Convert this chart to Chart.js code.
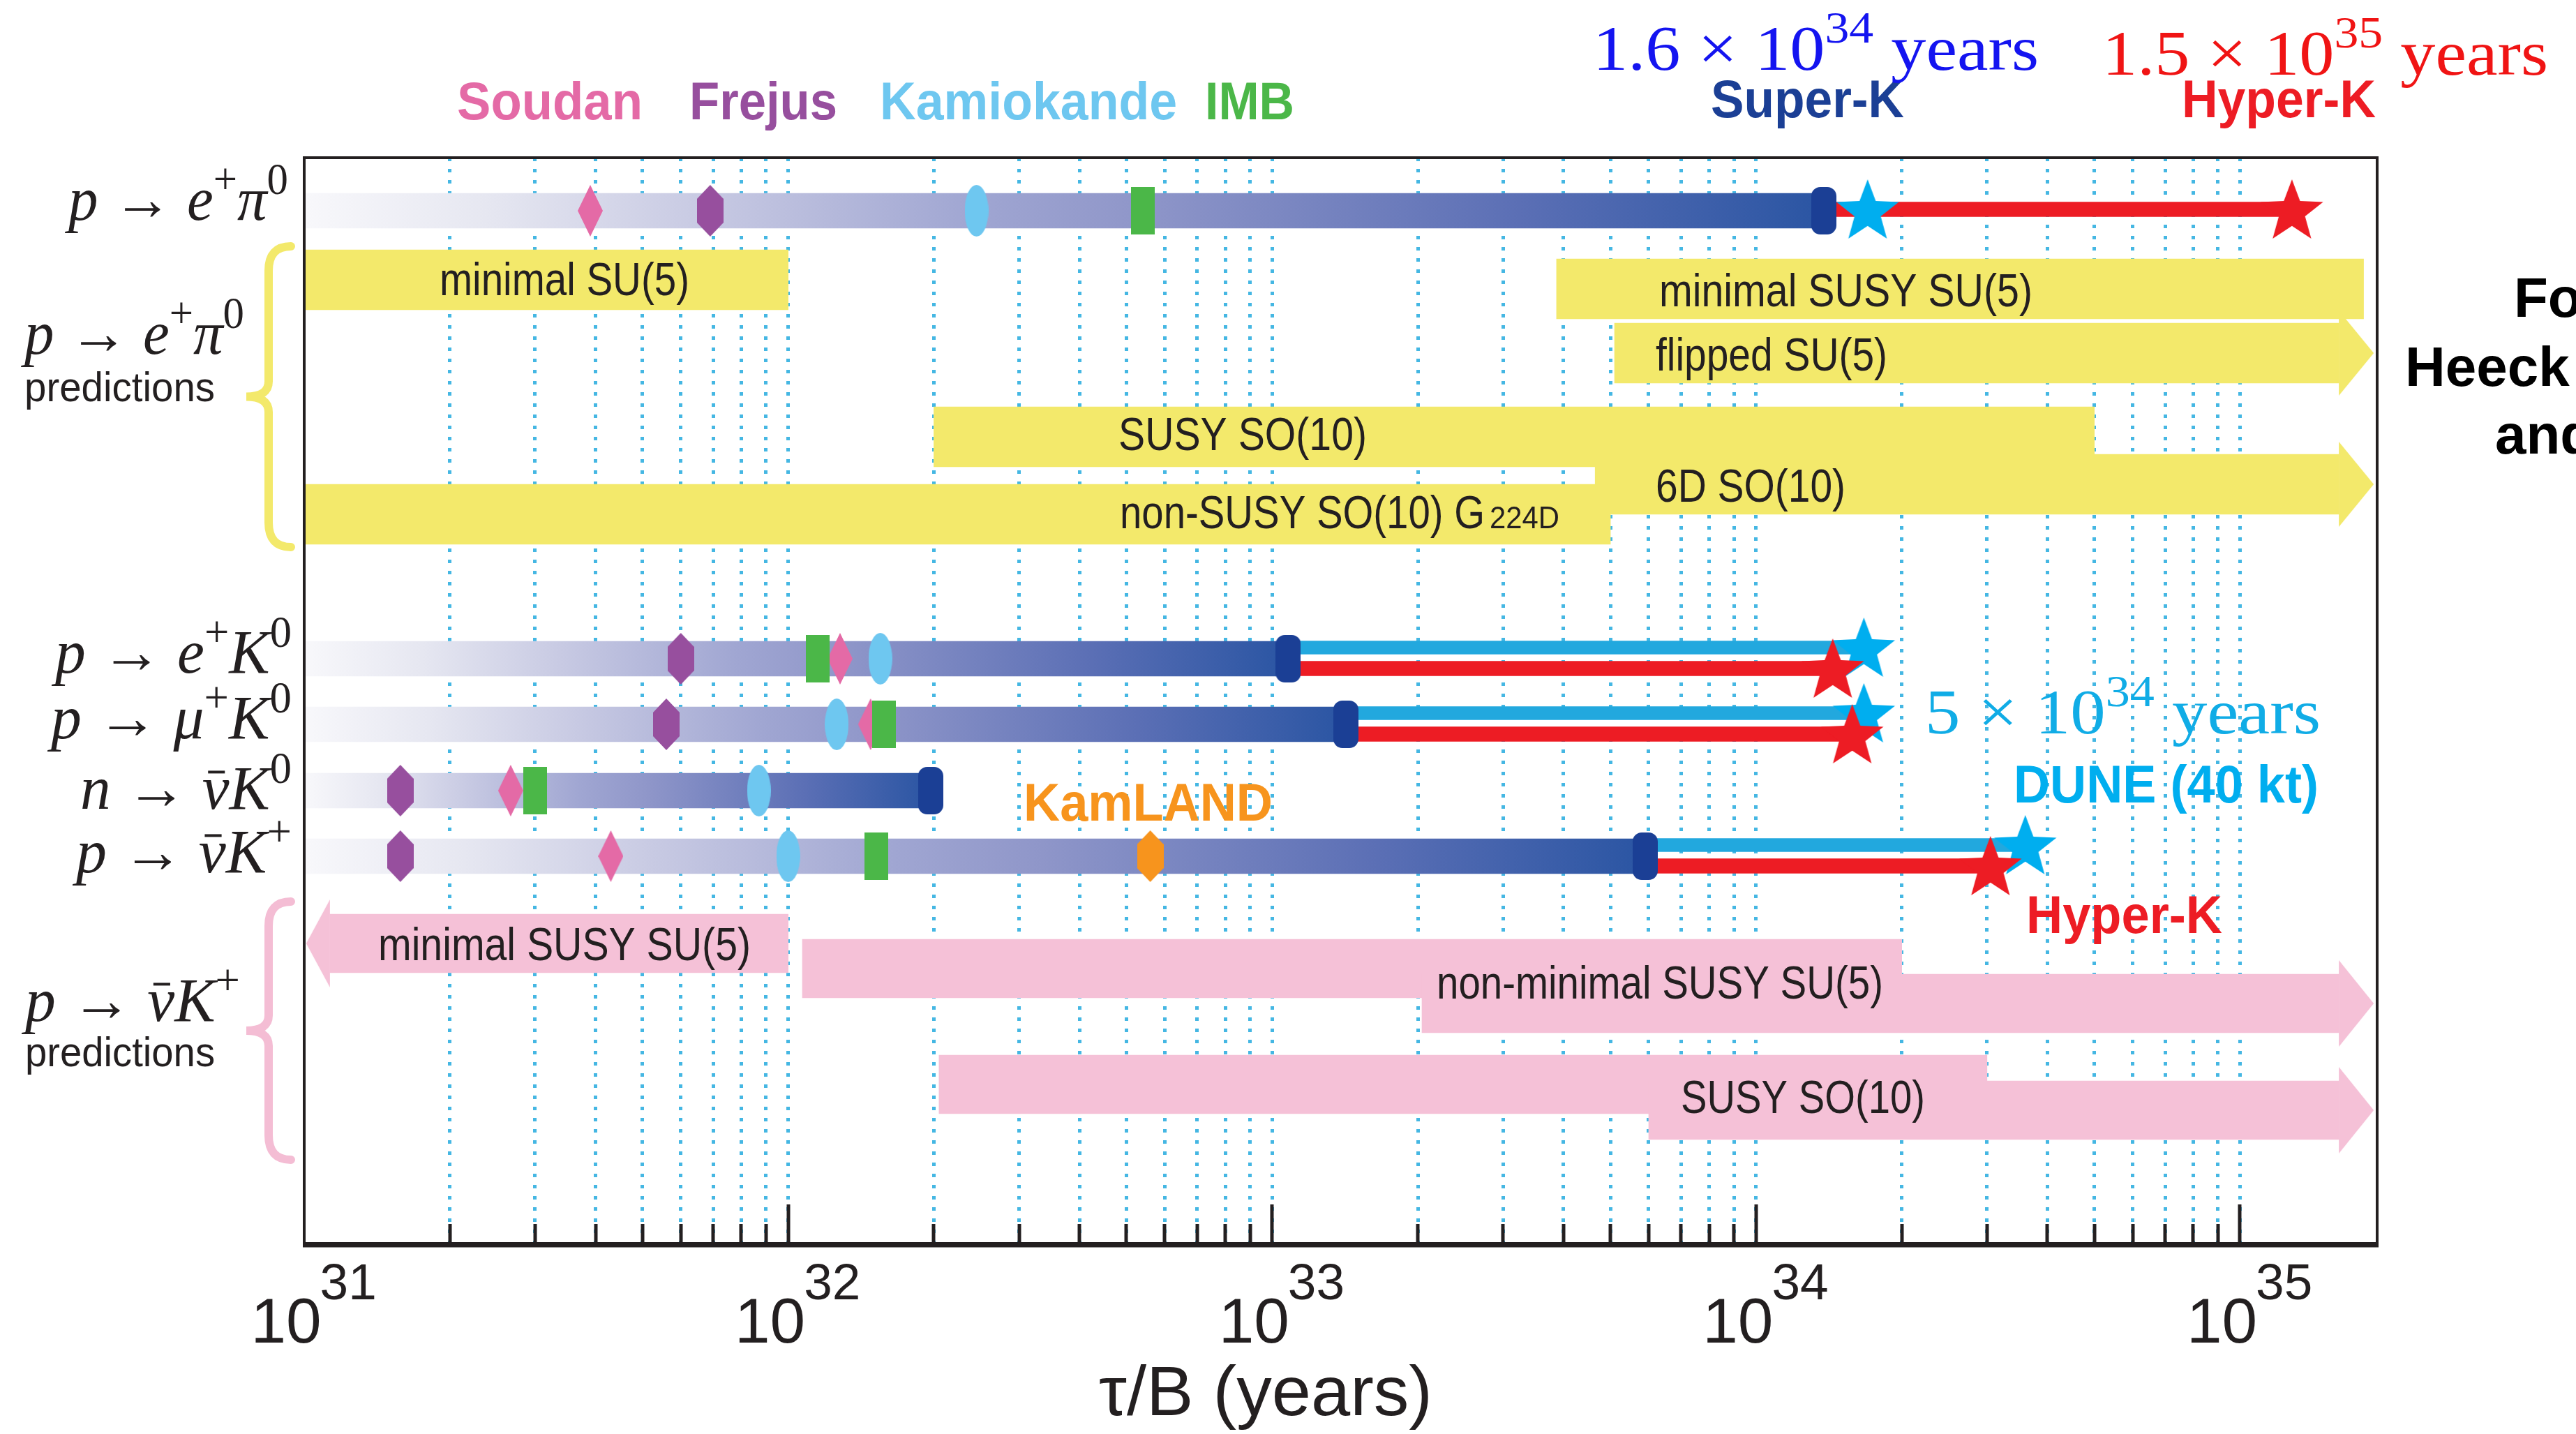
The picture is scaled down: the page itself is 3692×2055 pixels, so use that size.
<!DOCTYPE html>
<html>
<head>
<meta charset="utf-8">
<title>Nucleon decay: limits, reach and predictions</title>
<script src="https://cdn.jsdelivr.net/npm/chart.js@4.4.1/dist/chart.umd.min.js"></script>
<style>
  html, body { margin: 0; padding: 0; background: #fff; }
  #wrap { width: 3692px; height: 2055px; }
</style>
</head>
<body>
<div id="wrap"><canvas id="lifetimeChart" width="3692" height="2055"></canvas></div>
<script>
// ---- data: partial lifetime tau/B in years ----
const decadeExponents = [31, 32, 33, 34, 35];
const gridMantissas = [2, 3, 4, 5, 6, 7, 8, 9, 10];

// observed decay modes, top to bottom ('b' = barred italic)
const modeTokens = [
    [['i', 'p'], ['r', ' → '], ['i', 'e'], ['s', '+'], ['i', 'π'], ['s', '0']],
    [['i', 'p'], ['r', ' → '], ['i', 'e'], ['s', '+'], ['i', 'K'], ['s', '0']],
    [['i', 'p'], ['r', ' → '], ['i', 'μ'], ['s', '+'], ['i', 'K'], ['s', '0']],
    [['i', 'n'], ['r', ' → '], ['b', 'ν'], ['i', 'K'], ['s', '0']],
    [['i', 'p'], ['r', ' → '], ['b', 'ν'], ['i', 'K'], ['s', '+']]
];
const soudanLimit     = [3.9e31, 1.28e32, 1.48e32, 2.67e31, 4.3e31];
const frejusLimit     = [6.9e31, 6.0e31, 5.6e31, 1.58e31, 1.58e31];
const kamiokandeLimit = [2.45e32, 1.55e32, 1.26e32, 8.7e31, 1.0e32];
const imbLimit        = [5.4e32, 1.15e32, 1.58e32, 3.0e31, 1.52e32];
const kamlandLimit    = [null, null, null, null, 5.6e32];
const superKLimit     = [1.38e34, 1.08e33, 1.42e33, 1.97e32, 5.9e33];
const superKReach     = [1.7e34, null, null, null, null];
const duneReach       = [null, 1.67e34, 1.67e34, null, 3.6e34];
const hyperKReach     = [1.28e35, 1.44e34, 1.58e34, null, 3.05e34];

// model predictions (null = open ended, drawn with an arrow)
const epiModels   = ['minimal SU(5)', 'minimal SUSY SU(5)', 'flipped SU(5)', 'SUSY SO(10)', '6D SO(10)', 'non-SUSY SO(10) G'];
const epiPredLow  = [1e31, 3.87e33, 5.1e33, 2.0e32, 4.65e33, 1e31];
const epiPredHigh = [1e32, 1.8e35, null, 5e34, null, 5e33];

const nuKModels   = ['minimal SUSY SU(5)', 'non-minimal SUSY SU(5)', '', 'SUSY SO(10)', ''];
const nuKPredLow  = [null, 1.07e32, 2.04e33, 2.05e32, 6e33];
const nuKPredHigh = [1e32, 2e34, null, 3e34, null];

// ---- layout ----
const X_MIN = 1e31, X_MAX = 1.92e35;
const OPEN_LOW = 1.13e31, OPEN_HIGH = 1.6e35;   // where open ranges hand over to the arrow heads
const PLOT_LANES = 1556;                        // y runs in lane units from the top of the plot
const obsLane = [76, 718, 812, 907, 1001];
const hyperShift = [-2, 14, 14, 14, 14];
const duneShift = -16;
const epiLane = [175, 188, 280, 400, 468, 511];
const nuKLane = [1126, 1162, 1212, 1328, 1365];

const INK = '#231f20';
const YELLOW = '#f3e96b';
const PINK = '#f5c1d7';
const COLORS = {
    soudan: '#e46aa6', frejus: '#974f9e', kamiokande: '#6ec7f0', imb: '#4bb748',
    kamland: '#f7941d', superK: '#1b3f95', hyperK: '#ed1c24', dune: '#00aeef'
};
const limitStops = [[0, '#f8f8fb'], [0.12, '#e6e7f1'], [0.26, '#c8cae3'], [0.44, '#a0a6d2'],
                    [0.55, '#8f96c9'], [0.8, '#5b6fb5'], [1, '#2a55a3']];
const SANS = '"Liberation Sans", Arial, sans-serif';
const SERIF = '"Liberation Serif", "Times New Roman", serif';

function makeMarker(w, h, color, shape) {
    const c = document.createElement('canvas');
    c.width = w; c.height = h;
    const g = c.getContext('2d');
    g.fillStyle = color;
    g.beginPath();
    if (shape === 'diamond') {
        g.moveTo(w / 2, 0); g.lineTo(w, h / 2); g.lineTo(w / 2, h); g.lineTo(0, h / 2);
    } else if (shape === 'hexagon') {
        g.moveTo(w / 2, 0); g.lineTo(w, h * 0.27); g.lineTo(w, h * 0.73);
        g.lineTo(w / 2, h); g.lineTo(0, h * 0.73); g.lineTo(0, h * 0.27);
    } else if (shape === 'ellipse') {
        g.ellipse(w / 2, h / 2, w / 2, h / 2, 0, 0, Math.PI * 2);
    } else if (shape === 'rect') {
        g.rect(0, 0, w, h);
    } else if (shape === 'cap') {
        g.roundRect(0, 0, w, h, 13);
    } else if (shape === 'star') {
        const R = w / 2, r = R * 0.42;
        for (let k = 0; k < 10; k++) {
            const a = -Math.PI / 2 + k * Math.PI / 5;
            const rr = k % 2 ? r : R;
            g.lineTo(w / 2 + rr * Math.cos(a), h / 2 + rr * Math.sin(a) + 4);
        }
    } else if (shape === 'arrowRight') {
        g.moveTo(w / 2, 0); g.lineTo(w, h / 2); g.lineTo(w / 2, h);
    } else if (shape === 'arrowLeft') {
        g.moveTo(w / 2, 0); g.lineTo(0, h / 2); g.lineTo(w / 2, h);
    }
    g.closePath();
    g.fill();
    return c;
}

function pts(values, lanes, shift) {
    const out = [];
    values.forEach((v, i) => {
        if (v !== null) out.push({ x: v, y: lanes[i] + (Array.isArray(shift) ? shift[i] : (shift || 0)) });
    });
    return out;
}

function limitGradient(c) {
    const chart = c.chart;
    if (!chart.chartArea || !c.raw) return '#8f96c9';
    const xs = chart.scales.x;
    const x0 = xs.getPixelForValue(c.raw.x[0]);
    const x1 = xs.getPixelForValue(c.raw.x[1]);
    const g = chart.ctx.createLinearGradient(x0, 0, x1, 0);
    limitStops.forEach(([p, col]) => g.addColorStop(p, col));
    return g;
}

function markerSet(values, marker, order) {
    return { type: 'scatter', order: order, data: pts(values, obsLane), pointStyle: marker, pointRadius: 2 };
}

const datasets = [
    // e+ pi0 predictions
    { type: 'bar', indexAxis: 'y', grouped: false, order: 100, barThickness: 86, backgroundColor: YELLOW,
      data: epiPredLow.map((lo, i) => ({ x: [lo, epiPredHigh[i] === null ? OPEN_HIGH : epiPredHigh[i]], y: epiLane[i] })) },
    { type: 'scatter', order: 99, pointRadius: 2, pointStyle: makeMarker(100, 122, YELLOW, 'arrowRight'),
      data: epiPredHigh.map((hi, i) => hi === null ? { x: OPEN_HIGH, y: epiLane[i] } : null).filter(Boolean) },
    // anti-nu K+ predictions
    { type: 'bar', indexAxis: 'y', grouped: false, order: 100, barThickness: 84, backgroundColor: PINK,
      data: nuKPredLow.map((lo, i) => ({ x: [lo === null ? OPEN_LOW : lo, nuKPredHigh[i] === null ? OPEN_HIGH : nuKPredHigh[i]], y: nuKLane[i] })) },
    { type: 'scatter', order: 99, pointRadius: 2, pointStyle: makeMarker(100, 124, PINK, 'arrowRight'),
      data: nuKPredHigh.map((hi, i) => hi === null ? { x: OPEN_HIGH, y: nuKLane[i] } : null).filter(Boolean) },
    { type: 'scatter', order: 99, pointRadius: 2, pointStyle: makeMarker(68, 126, PINK, 'arrowLeft'),
      data: nuKPredLow.map((lo, i) => lo === null ? { x: OPEN_LOW, y: nuKLane[i] } : null).filter(Boolean) },
    // current limits
    { type: 'bar', indexAxis: 'y', grouped: false, order: 90, barThickness: 50, backgroundColor: limitGradient,
      data: superKLimit.map((v, i) => ({ x: [X_MIN, v], y: obsLane[i] })) },
    // future reach lines
    { type: 'bar', indexAxis: 'y', grouped: false, order: 80, barThickness: 21, backgroundColor: COLORS.hyperK,
      data: hyperKReach.map((v, i) => v === null ? null : { x: [superKLimit[i], v], y: obsLane[i] + hyperShift[i] }).filter(Boolean) },
    { type: 'bar', indexAxis: 'y', grouped: false, order: 79, barThickness: 19, backgroundColor: '#22a8de',
      data: duneReach.map((v, i) => v === null ? null : { x: [superKLimit[i], v], y: obsLane[i] + duneShift }).filter(Boolean) },
    // old experiments
    markerSet(soudanLimit, makeMarker(36, 74, COLORS.soudan, 'diamond'), 72),
    markerSet(frejusLimit, makeMarker(38, 74, COLORS.frejus, 'hexagon'), 71),
    markerSet(kamiokandeLimit, makeMarker(34, 74, COLORS.kamiokande, 'ellipse'), 70),
    markerSet(imbLimit, makeMarker(34, 68, COLORS.imb, 'rect'), 69),
    markerSet(kamlandLimit, makeMarker(38, 74, COLORS.kamland, 'hexagon'), 68),
    markerSet(superKLimit, makeMarker(36, 68, COLORS.superK, 'cap'), 60),
    // stars
    { type: 'scatter', order: 52, pointRadius: 2, pointStyle: makeMarker(94, 94, COLORS.dune, 'star'),
      data: pts(superKReach, obsLane, hyperShift).concat(pts(duneReach, obsLane, duneShift)) },
    { type: 'scatter', order: 50, pointRadius: 2, pointStyle: makeMarker(94, 94, COLORS.hyperK, 'star'),
      data: pts(hyperKReach, obsLane, hyperShift) }
];

const gridValues = [];
decadeExponents.slice(0, -1).forEach(e => gridMantissas.forEach(m => gridValues.push(m * Math.pow(10, e))));

// ---- text helpers ----
function drawParts(ctx, parts, left, right, baseline) {
    let total = 0;
    const widths = parts.map(p => {
        ctx.font = p.font;
        const w = ctx.measureText(p.text).width;
        total += w;
        return w;
    });
    const sx = right == null ? 1 : (right - left) / total;
    ctx.save();
    ctx.translate(left, baseline);
    ctx.scale(sx, 1);
    ctx.textAlign = 'left';
    ctx.textBaseline = 'alphabetic';
    let x = 0;
    parts.forEach((p, i) => {
        ctx.font = p.font;
        ctx.fillStyle = p.color || INK;
        ctx.fillText(p.text, x, -(p.rise || 0));
        if (p.bar) {
            // macron over the symbol
            ctx.fillRect(x + widths[i] * 0.22, -p.bar * 0.62, widths[i] * 0.62, p.bar * 0.045);
        }
        x += widths[i];
    });
    ctx.restore();
}

function mathParts(tokens, size) {
    return tokens.map(([kind, text]) => {
        if (kind === 'i') return { text, font: `italic ${size}px ${SERIF}` };
        if (kind === 'b') return { text, font: `italic ${size}px ${SERIF}`, bar: size };
        if (kind === 's') return { text, font: `${Math.round(size * 0.72)}px ${SERIF}`, rise: size * 0.42 };
        return { text, font: `${size}px ${SERIF}` };
    });
}

function reachText(mant, exp, color) {
    return [
        { text: mant + ' × 10', font: `92px ${SERIF}`, color },
        { text: exp, font: `64px ${SERIF}`, color, rise: 39 },
        { text: ' years', font: `92px ${SERIF}`, color }
    ];
}

function drawBrace(ctx, yTop, yBot, color) {
    const xo = 417, xi = 385, xt = 353, r = 35;
    const ym = (yTop + yBot) / 2;
    ctx.save();
    ctx.strokeStyle = color;
    ctx.lineWidth = 12;
    ctx.lineCap = 'round';
    ctx.beginPath();
    ctx.moveTo(xo, yTop);
    ctx.quadraticCurveTo(xi, yTop, xi, yTop + r);
    ctx.lineTo(xi, ym - 22);
    ctx.quadraticCurveTo(xi, ym, xt, ym);
    ctx.quadraticCurveTo(xi, ym, xi, ym + 22);
    ctx.lineTo(xi, yBot - r);
    ctx.quadraticCurveTo(xi, yBot, xo, yBot);
    ctx.stroke();
    ctx.restore();
}

const rowLabelBox = [[98, 413, 315], [79, 418, 964], [73, 418, 1058], [115, 418, 1159], [109, 418, 1250]];
const epiLabelBox = [[630, 988, 423], [2378, 2913, 439], [2373, 2705, 531], [1603, 1959, 645], [2373, 2645, 719], [1605, 2128, 757]];
const nuKLabelBox = [[542, 1076, 1376], [2059, 2699, 1431], null, [2409, 2759, 1595], null];
const BAND_FONT = `66px ${SANS}`;

const decorations = {
    id: 'decorations',
    beforeDraw(chart) {
        const ctx = chart.ctx;
        ctx.save();
        ctx.fillStyle = '#fff';
        ctx.fillRect(0, 0, chart.width, chart.height);
        ctx.restore();
    },
    afterDraw(chart) {
        const ctx = chart.ctx;
        const area = chart.chartArea;
        const xs = chart.scales.x;

        // inward tick marks
        ctx.save();
        ctx.strokeStyle = INK;
        ctx.lineWidth = 5;
        gridValues.forEach(v => {
            const px = Math.round(xs.getPixelForValue(v));
            const major = Math.abs(Math.log10(v) - Math.round(Math.log10(v))) < 1e-9;
            ctx.beginPath();
            ctx.moveTo(px, area.bottom);
            ctx.lineTo(px, area.bottom - (major ? 56 : 28));
            ctx.stroke();
        });
        // frame
        ctx.lineWidth = 4;
        ctx.strokeRect(area.left, area.top, area.right - area.left, area.bottom - area.top);
        ctx.lineWidth = 7;
        ctx.beginPath();
        ctx.moveTo(area.left - 2, area.bottom + 2);
        ctx.lineTo(area.right + 2, area.bottom + 2);
        ctx.stroke();
        ctx.restore();

        // decade labels
        decadeExponents.forEach(e => {
            const px = xs.getPixelForValue(Math.pow(10, e));
            ctx.save();
            ctx.font = `91px ${SANS}`;
            const w = ctx.measureText('10').width;
            ctx.fillStyle = INK;
            ctx.textBaseline = 'alphabetic';
            ctx.fillText('10', px - 26 - w / 2, 1924);
            ctx.font = `73px ${SANS}`;
            ctx.fillText(String(e), px - 26 + w / 2 - 2, 1862);
            ctx.restore();
        });
        drawParts(ctx, [{ text: 'τ/B (years)', font: `100px ${SANS}` }], 1575, 2053, 2028);

        // row labels and braces
        modeTokens.forEach((tk, i) => {
            const b = rowLabelBox[i];
            drawParts(ctx, mathParts(tk, 88), b[0], b[1], b[2]);
        });
        drawParts(ctx, mathParts(modeTokens[0], 88), 35, 350, 507);
        drawParts(ctx, [{ text: 'predictions', font: `60px ${SANS}` }], 35, 308, 575);
        drawParts(ctx, mathParts(modeTokens[4], 88), 36, 344, 1463);
        drawParts(ctx, [{ text: 'predictions', font: `60px ${SANS}` }], 36, 308, 1528);
        drawBrace(ctx, 353, 784, YELLOW);
        drawBrace(ctx, 1292, 1662, '#f4bdd4');

        // model names inside the bands
        epiModels.forEach((name, i) => {
            const b = epiLabelBox[i];
            drawParts(ctx, [{ text: name, font: BAND_FONT }], b[0], b[1], b[2]);
        });
        drawParts(ctx, [{ text: '224D', font: `44px ${SANS}` }], 2135, 2235, 757);
        nuKModels.forEach((name, i) => {
            const b = nuKLabelBox[i];
            if (b) drawParts(ctx, [{ text: name, font: BAND_FONT }], b[0], b[1], b[2]);
        });

        // experiment names
        const bold = s => `bold ${s}px ${SANS}`;
        drawParts(ctx, [{ text: 'Soudan', font: bold(76), color: COLORS.soudan }], 655, 921, 171);
        drawParts(ctx, [{ text: 'Frejus', font: bold(76), color: COLORS.frejus }], 988, 1200, 171);
        drawParts(ctx, [{ text: 'Kamiokande', font: bold(76), color: COLORS.kamiokande }], 1261, 1687, 171);
        drawParts(ctx, [{ text: 'IMB', font: bold(76), color: COLORS.imb }], 1727, 1855, 171);
        drawParts(ctx, [{ text: 'Super-K', font: bold(76), color: COLORS.superK }], 2452, 2729, 168);
        drawParts(ctx, [{ text: 'Hyper-K', font: bold(76), color: COLORS.hyperK }], 3127, 3405, 168);
        drawParts(ctx, [{ text: 'KamLAND', font: bold(76), color: COLORS.kamland }], 1467, 1824, 1176);
        drawParts(ctx, [{ text: 'DUNE (40 kt)', font: bold(76), color: COLORS.dune }], 2886, 3323, 1150);
        drawParts(ctx, [{ text: 'Hyper-K', font: bold(76), color: COLORS.hyperK }], 2904, 3185, 1337);

        // sensitivities
        drawParts(ctx, reachText('1.6', '34', '#1414f0'), 2283, 2922, 100);
        drawParts(ctx, reachText('1.5', '35', '#f01414'), 3013, 3652, 107);
        drawParts(ctx, reachText('5', '34', '#10ace6'), 2759, 3326, 1051);

        // slide text running off the right edge
        ['For', 'Heeck', 'and'].forEach((t, i) => {
            const pos = [[3603, 454], [3447, 553], [3576, 650]][i];
            drawParts(ctx, [{ text: t, font: bold(80), color: '#000' }], pos[0], null, pos[1]);
        });
    }
};

new Chart(document.getElementById('lifetimeChart'), {
    type: 'scatter',
    data: { datasets: datasets },
    options: {
        responsive: false,
        devicePixelRatio: 1,
        animation: false,
        events: [],
        layout: { padding: { left: 436, right: 285, top: 226, bottom: 273 } },
        plugins: { legend: { display: false }, tooltip: { enabled: false } },
        scales: {
            x: {
                type: 'logarithmic', min: X_MIN, max: X_MAX, bounds: 'data', offset: false,
                afterBuildTicks: s => { s.ticks = gridValues.map(v => ({ value: v })); },
                afterFit: s => { s.height = 0; },
                ticks: { display: false },
                grid: { color: '#45b7e3', lineWidth: 5, drawTicks: false, offset: false },
                border: { display: false, dash: [5, 11] }
            },
            y: { type: 'linear', min: 0, max: PLOT_LANES, reverse: true, display: false,
                 offset: false, grid: { offset: false } }
        }
    },
    plugins: [decorations]
});
</script>
</body>
</html>
